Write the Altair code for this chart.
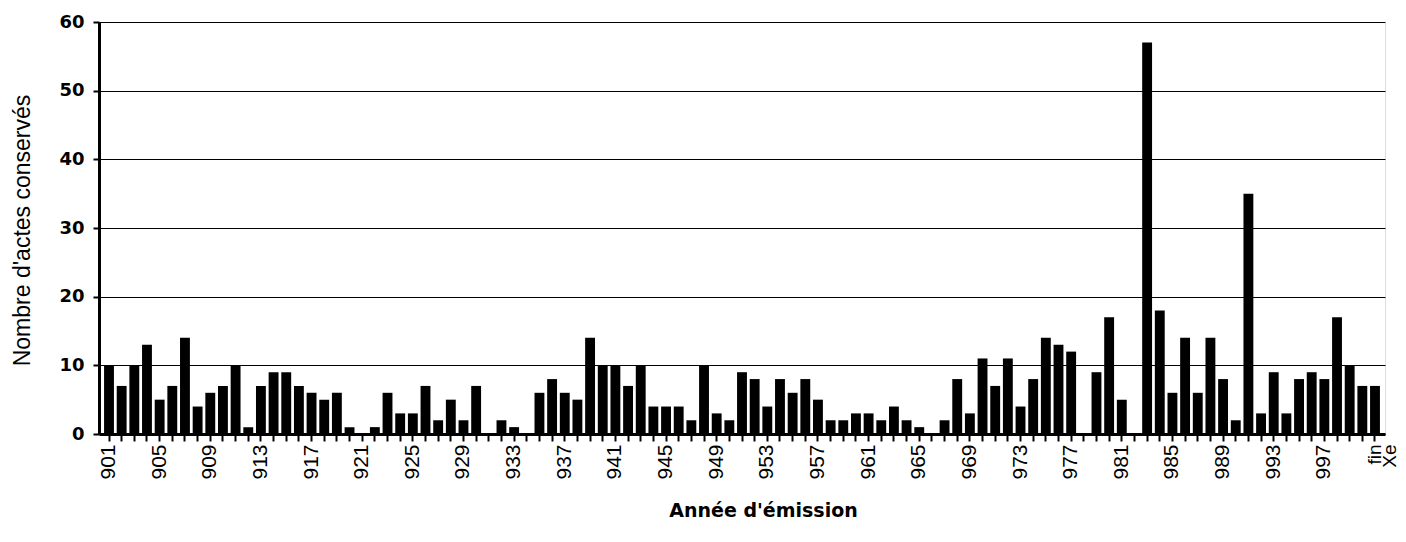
import altair as alt
import pandas as pd

# Categories: years 901..1000 plus "fin Xe"
years = [str(y) for y in range(901, 1001)] + ["fin Xe"]

counts_901_926 = [10, 7, 10, 13, 5, 7, 14, 4, 6, 7, 10, 1, 7, 9, 9, 7, 6, 5, 6, 1, 0, 1, 6, 3, 3, 7]
counts_927_952 = [2, 5, 2, 7, 0, 2, 1, 0, 6, 8, 6, 5, 14, 10, 10, 7, 10, 4, 4, 4, 2, 10, 3, 2, 9, 8]
counts_953_967 = [4, 8, 6, 8, 5, 2, 2, 3, 3, 2, 4, 2, 1, 0, 2]
counts_968_983 = [8, 3, 11, 7, 11, 4, 8, 14, 13, 12, 0, 9, 17, 5, 0, 57]
counts_984_1000 = [18, 6, 14, 6, 14, 8, 2, 35, 3, 9, 3, 8, 9, 8, 17, 10, 7]
counts_fin = [7]

counts = counts_901_926 + counts_927_952 + counts_953_967 + counts_968_983 + counts_984_1000 + counts_fin

y_ticks = [0, 10, 20, 30, 40, 50, 60]

df = pd.DataFrame({"year": years, "count": counts})

label_expr = (
    "datum.value == 'fin Xe' ? ['fin', 'Xe'] : "
    "((toNumber(datum.value) - 901) % 4 == 0 ? datum.value : '')"
)

chart = (
    alt.Chart(df)
    .mark_bar(color="black")
    .encode(
        x=alt.X(
            "year:N",
            sort=years,
            scale=alt.Scale(paddingInner=0.22, paddingOuter=0.4),
            axis=alt.Axis(
                title="Année d'émission",
                titleFont="DejaVu Sans",
                titleFontSize=19,
                titleFontWeight="bold",
                titleColor="black",
                titleX=664,
                titleY=82,
                titleAlign="center",
                titleBaseline="alphabetic",
                labelExpr=label_expr,
                labelAngle=270,
                labelFont="Liberation Sans",
                labelFontSize={
                    "condition": {"test": "datum.value == 'fin Xe'", "value": 19},
                    "value": 21,
                },
                labelColor="black",
                labelPadding=3,
                labelLineHeight=15,
                labelOverlap=False,
                ticks=True,
                tickSize=7,
                tickWidth=2,
                tickColor="black",
                domain=True,
                domainColor="black",
                domainWidth=3,
                grid=False,
            ),
        ),
        y=alt.Y(
            "count:Q",
            scale=alt.Scale(domain=[0, 60], nice=False),
            axis=alt.Axis(
                title="Nombre d'actes conservés",
                titleFont="Liberation Sans",
                titleFontSize=23,
                titleFontWeight="normal",
                titleColor="black",
                titleAngle=270,
                titleX=-77,
                titleY=208,
                titleAlign="center",
                titleBaseline="middle",
                values=y_ticks,
                labelFont="DejaVu Sans",
                labelFontSize=18,
                labelFontWeight="bold",
                labelColor="black",
                labelPadding=9,
                tickSize=6,
                tickWidth=2,
                tickColor="black",
                domain=True,
                domainColor="black",
                domainWidth=3,
                grid=True,
                gridColor="black",
                gridWidth=1,
                gridOpacity=1,
            ),
        ),
    )
    .properties(
        width=1286,
        height=412,
        autosize="none",
        padding={"left": 91, "top": 14, "right": 13, "bottom": 100},
    )
    .configure_view(stroke="black", strokeWidth=3)
    .configure(background="white")
)

chart.save("out.html", embed_options={"renderer": "svg", "actions": False})
